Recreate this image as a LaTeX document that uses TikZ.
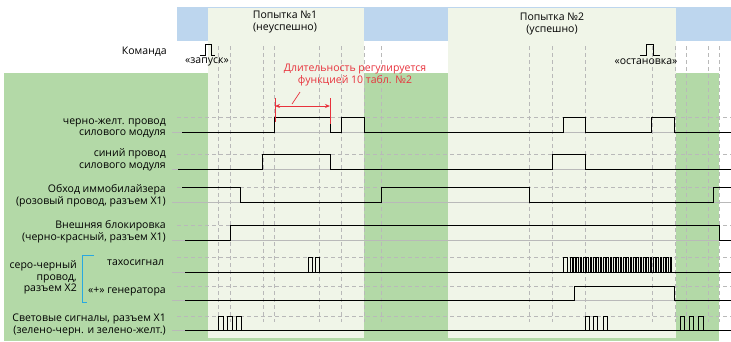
\documentclass[tikz,border=0pt]{standalone}
\usepackage{fontspec}
\setmainfont{Open Sans}
\usetikzlibrary{arrows.meta}
\definecolor{dkgreen}{RGB}{179,217,167}
\definecolor{ltgreen}{RGB}{240,245,232}
\definecolor{ltblue}{RGB}{189,214,238}
\definecolor{redc}{RGB}{232,50,60}
\definecolor{cyanc}{RGB}{41,168,224}
\definecolor{gridc}{RGB}{185,185,185}
\begin{document}
\begin{tikzpicture}[x=1pt,y=-1pt,
  sig/.style={black,line width=0.9pt,line join=miter},
  hiline/.style={gridc,line width=0.7pt,dash pattern=on 4pt off 3pt},
  loline/.style={gridc,line width=0.8pt},
  vline/.style={gridc,line width=0.7pt,dash pattern=on 4pt off 3pt},
  lbl/.style={font=\fontsize{10.5}{11.5}\selectfont,inner sep=0pt},
  rlbl/.style={lbl,align=right,anchor=east},
  redl/.style={redc,line width=0.9pt}]
\useasboundingbox (0,0) rectangle (731,341);
\fill[white] (0,0) rectangle (731,341);
% backgrounds
\fill[ltblue] (177,7) rectangle (731,41);
\fill[dkgreen] (4,73) rectangle (719,341);
\fill[ltgreen] (208,7) rectangle (364,338);
\fill[ltgreen] (448,7) rectangle (676,338);
\draw[ltblue,line width=0.8pt] (177,7) -- (731,7);
% vertical dashed lines
\foreach \x in {218,230,263,274,319,341,364,381,529,552,585,652,675,686,708,719}
  \draw[vline] (\x,46) -- (\x,322);
% baselines
\foreach \h/\l in {117/132,154/169,187/202,225/240,257/272,286/300,316/330}{
  \draw[hiline] (177,\h) -- (731,\h);
  \draw[loline] (172,\l) -- (731,\l);
}
% top labels
\node[lbl,align=center] (try1) at (285,22) {Попытка №1\\(неуспешно)};
\node[lbl,align=center] (try2) at (552,24) {Попытка №2\\(успешно)};
\node[rlbl] (cmd) at (167,52) {Команда};
\draw[sig,line width=0.8pt] (200,55) -- (205,55) -- (205,44) -- (211,44) -- (211,55) -- (215,55);
\node[lbl] (start) at (207,62) {«запуск»};
\draw[sig,line width=0.8pt] (640,55) -- (646,55) -- (646,44) -- (653,44) -- (653,55) -- (660,55);
\node[lbl] (stop) at (646,62) {«остановка»};
% red annotation
\node[lbl,text=redc,align=center] (note) at (355,75) {Длительность регулируется\\функцией 10 табл. №2};
\coordinate (ra) at (275,106);
\coordinate (rb) at (330,106);
\draw[redl,{Stealth[length=5pt,width=4pt]}-{Stealth[length=5pt,width=4pt]}] (ra) -- (rb);
\draw[redl,line width=0.7pt] (300,92) -- (292,104);
% row labels
\node[rlbl] (l1) at (166,128.5) {черно-желт. провод\\силового модуля};
\node[rlbl] (l2) at (166,160) {синий провод\\силового модуля};
\node[rlbl] (l3) at (166,195.5) {Обход иммобилайзера\\(розовый провод, разъем X1)};
\node[rlbl] (l4) at (166,231.5) {Внешняя блокировка\\(черно-красный, разъем X1)};
\node[rlbl] (l5) at (77,277.5) {серо-черный\\провод,\\разъем X2};
\node[lbl,anchor=west] (l5a) at (107,263) {тахосигнал};
\node[rlbl] (l6) at (166,292) {«+» генератора};
\node[rlbl] (l7) at (166,325) {Световые сигналы, разъем X1\\(зелено-черн. и зелено-желт.)};
\draw[cyanc,line width=0.9pt] (94,255) -- (82,255) -- (82,302) -- (87,302);
% signals
\draw[sig] (182,132) -- (274,132) -- (274,117) -- (330,117) -- (330,132) -- (341,132) -- (341,117) -- (364,117) -- (364,132) -- (563,132) -- (563,117) -- (585,117) -- (585,132) -- (651,132) -- (651,117) -- (674,117) -- (674,132) -- (731,132);
\draw[redl] (275,98) -- (275,122);
\draw[redl] (330,98) -- (330,124);
\draw[sig] (178,169) -- (262,169) -- (262,154) -- (330,154) -- (330,169) -- (552,169) -- (552,154) -- (585,154) -- (585,169) -- (731,169);
\draw[sig] (182,187) -- (240,187) -- (240,202) -- (381,202) -- (381,187) -- (529,187) -- (529,202) -- (713,202) -- (713,187) -- (731,187);
\draw[sig] (185,240) -- (230,240) -- (230,225) -- (719,225) -- (719,240) -- (731,240);
\draw[sig] (185,272) -- (731,272);
\foreach \a/\b in {308/312,315/319,563/567}
  \draw[sig,line width=0.8pt] (\a,272) |- (\b,257) -- (\b,272);
\foreach \i in {0,...,30}
  \draw[sig,line width=0.6pt] ({570+3.33*\i},272) |- ({571.8+3.33*\i},257) -- ({571.8+3.33*\i},272);
\draw[sig] (185,300) -- (574,300) -- (574,286) -- (674,286) -- (674,300) -- (731,300);
\draw[sig] (185,330) -- (731,330);
\foreach \a/\b in {218/223,227/232,236/241,585/589,593/597,603/607,680/684,689/693,698/703}
  \draw[sig,line width=0.8pt] (\a,330) |- (\b,316) -- (\b,330);
\end{tikzpicture}
\end{document}
